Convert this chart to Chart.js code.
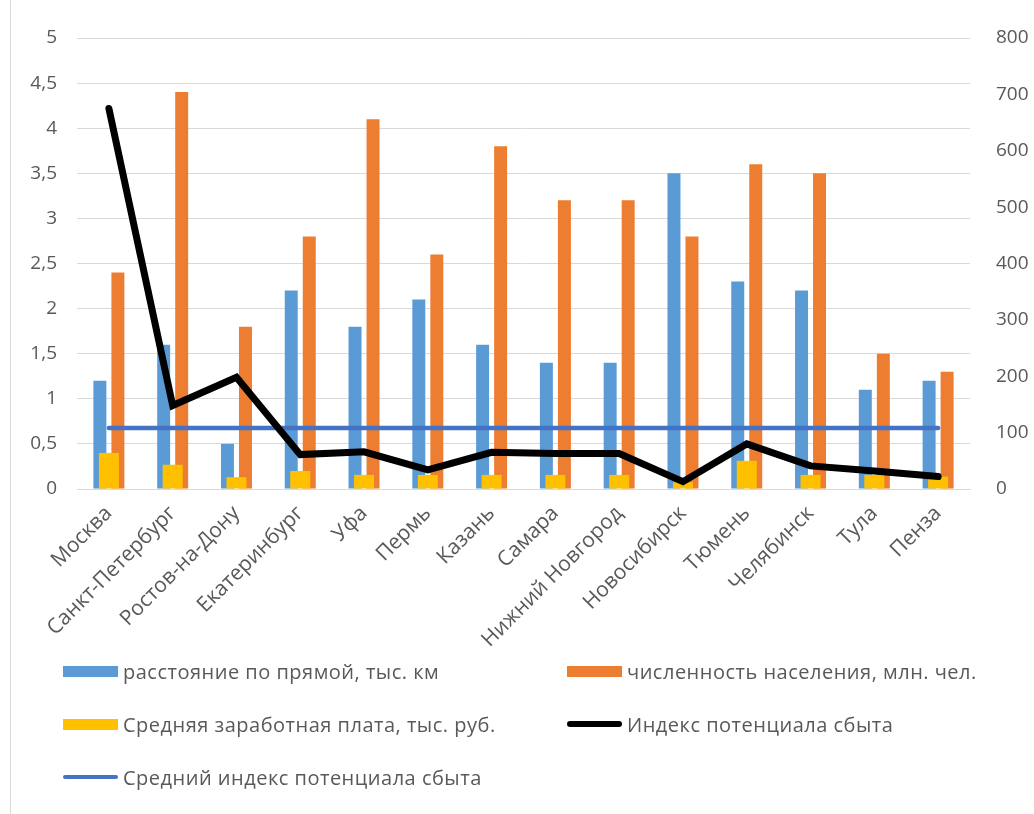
<!DOCTYPE html>
<html lang="ru">
<head>
<meta charset="utf-8">
<script src="https://cdn.jsdelivr.net/npm/chart.js@4/dist/chart.umd.min.js"></script>
<style>
  html, body { margin: 0; padding: 0; background: #fff; }
  #wrap { position: relative; width: 1034px; height: 814px; overflow: hidden; }
  #frame { position: absolute; left: 10px; top: 0; width: 1px; height: 814px; background: #d9d9d9; }
  #chartBox { position: absolute; left: 0; top: 0; width: 1034px; height: 660px; }
  #legend { position: absolute; left: 0; top: 0; width: 1034px; height: 814px; pointer-events: none; }
  .lg-item { position: absolute; height: 22px; display: flex; align-items: center;
    font-family: "Open Sans", sans-serif; font-size: 20px; letter-spacing: 0.5px; color: #595959; white-space: nowrap; }
  .lg-sw { display: inline-block; width: 55px; margin-right: 5px; }
</style>
</head>
<body>
<div id="wrap">
  <div id="frame"></div>
  <div id="chartBox"><canvas id="chart" width="1034" height="660"></canvas></div>
  <div id="legend"></div>
</div>
<script>
const cities = ["Москва", "Санкт-Петербург", "Ростов-на-Дону", "Екатеринбург", "Уфа", "Пермь", "Казань",
  "Самара", "Нижний Новгород", "Новосибирск", "Тюмень", "Челябинск", "Тула", "Пенза"];
const distance = [1.2, 1.6, 0.5, 2.2, 1.8, 2.1, 1.6, 1.4, 1.4, 3.5, 2.3, 2.2, 1.1, 1.2];
const population = [2.4, 4.4, 1.8, 2.8, 4.1, 2.6, 3.8, 3.2, 3.2, 2.8, 3.6, 3.5, 1.5, 1.3];
const salary = [64, 43, 21, 32, 25, 25, 25, 25, 25, 12, 50, 25, 25, 22];
const salesIndex = [675, 148, 198, 61, 66, 34, 65, 63, 63, 13, 80, 41, 32, 22];
const avgIndex = [108, 108, 108, 108, 108, 108, 108, 108, 108, 108, 108, 108, 108, 108];
const leftTicks = [0, 0.5, 1, 1.5, 2, 2.5, 3, 3.5, 4, 4.5, 5];
const rightTicks = [0, 100, 200, 300, 400, 500, 600, 700, 800];

(function () {
  const FONT = "'Open Sans', sans-serif";
  const TXT = "#595959";
  const GRID = "#d9d9d9";

  const fmt = (v) => String(v).replace(".", ",");

  const datasets = [
    {
      type: "bar", label: "расстояние по прямой, тыс. км", data: distance,
      backgroundColor: "#5B9BD5", yAxisID: "y", order: 4,
      categoryPercentage: 0.565, barPercentage: 0.72,
    },
    {
      type: "bar", label: "численность населения, млн. чел.", data: population,
      backgroundColor: "#ED7D31", yAxisID: "y", order: 4,
      categoryPercentage: 0.565, barPercentage: 0.72,
    },
    {
      type: "bar", label: "Средняя заработная плата, тыс. руб.", data: salary,
      backgroundColor: "#FFC000", yAxisID: "y1", order: 3,
      grouped: false, barPercentage: 1, maxBarThickness: 20,
    },
    {
      type: "line", label: "Индекс потенциала сбыта", data: salesIndex,
      borderColor: "#000000", backgroundColor: "#000000", borderWidth: 7,
      pointRadius: 0, tension: 0, yAxisID: "y1", order: 1,
      borderCapStyle: "round", borderJoinStyle: "miter",
    },
    {
      type: "line", label: "Средний индекс потенциала сбыта", data: avgIndex,
      borderColor: "#4472C4", backgroundColor: "#4472C4", borderWidth: 4.5,
      pointRadius: 0, tension: 0, yAxisID: "y1", order: 2,
      borderCapStyle: "round",
    },
  ];

  const chart = new Chart(document.getElementById("chart"), {
    data: { labels: cities, datasets: datasets },
    options: {
      responsive: false,
      animation: false,
      layout: { padding: { top: 38, left: 0, right: 0, bottom: 0 } },
      plugins: { legend: { display: false }, tooltip: { enabled: false } },
      scales: {
        x: {
          grid: { display: false, drawTicks: false },
          border: { display: true, color: GRID, width: 1 },
          ticks: {
            color: TXT, font: { family: FONT, size: 21 }, padding: 12,
            minRotation: 45, maxRotation: 45, autoSkip: false,
          },
          afterFit: (s) => { s.height = 171; },
        },
        y: {
          position: "left", min: 0, max: 5,
          afterBuildTicks: (s) => { s.ticks = leftTicks.map((v) => ({ value: v })); },
          grid: { color: GRID, lineWidth: 1, drawTicks: false },
          border: { display: false },
          ticks: { color: TXT, font: { family: FONT, size: 19 }, padding: 20, callback: fmt },
          afterFit: (s) => { s.width = 77; },
        },
        y1: {
          position: "right", min: 0, max: 800,
          afterBuildTicks: (s) => { s.ticks = rightTicks.map((v) => ({ value: v })); },
          grid: { drawOnChartArea: false, drawTicks: false },
          border: { display: false },
          ticks: { color: TXT, font: { family: FONT, size: 19 }, padding: 26, callback: fmt },
          afterFit: (s) => { s.width = 64; },
        },
      },
    },
  });

  // легенда в две колонки, как в исходнике
  const legend = document.getElementById("legend");
  const cols = [63, 567];
  const rows = [671, 724, 777];
  chart.data.datasets.forEach((ds, i) => {
    const item = document.createElement("div");
    item.className = "lg-item";
    item.style.left = cols[i % 2] + "px";
    item.style.top = (rows[Math.floor(i / 2)] - 11) + "px";
    const sw = document.createElement("span");
    sw.className = "lg-sw";
    if (ds.type === "bar") {
      sw.style.height = "11px";
      sw.style.background = ds.backgroundColor;
    } else {
      sw.style.height = Math.round(ds.borderWidth * 0.9) + "px";
      sw.style.background = ds.borderColor;
      sw.style.borderRadius = "4px";
    }
    const txt = document.createElement("span");
    txt.textContent = ds.label;
    item.appendChild(sw);
    item.appendChild(txt);
    legend.appendChild(item);
  });
})();
</script>
</body>
</html>
